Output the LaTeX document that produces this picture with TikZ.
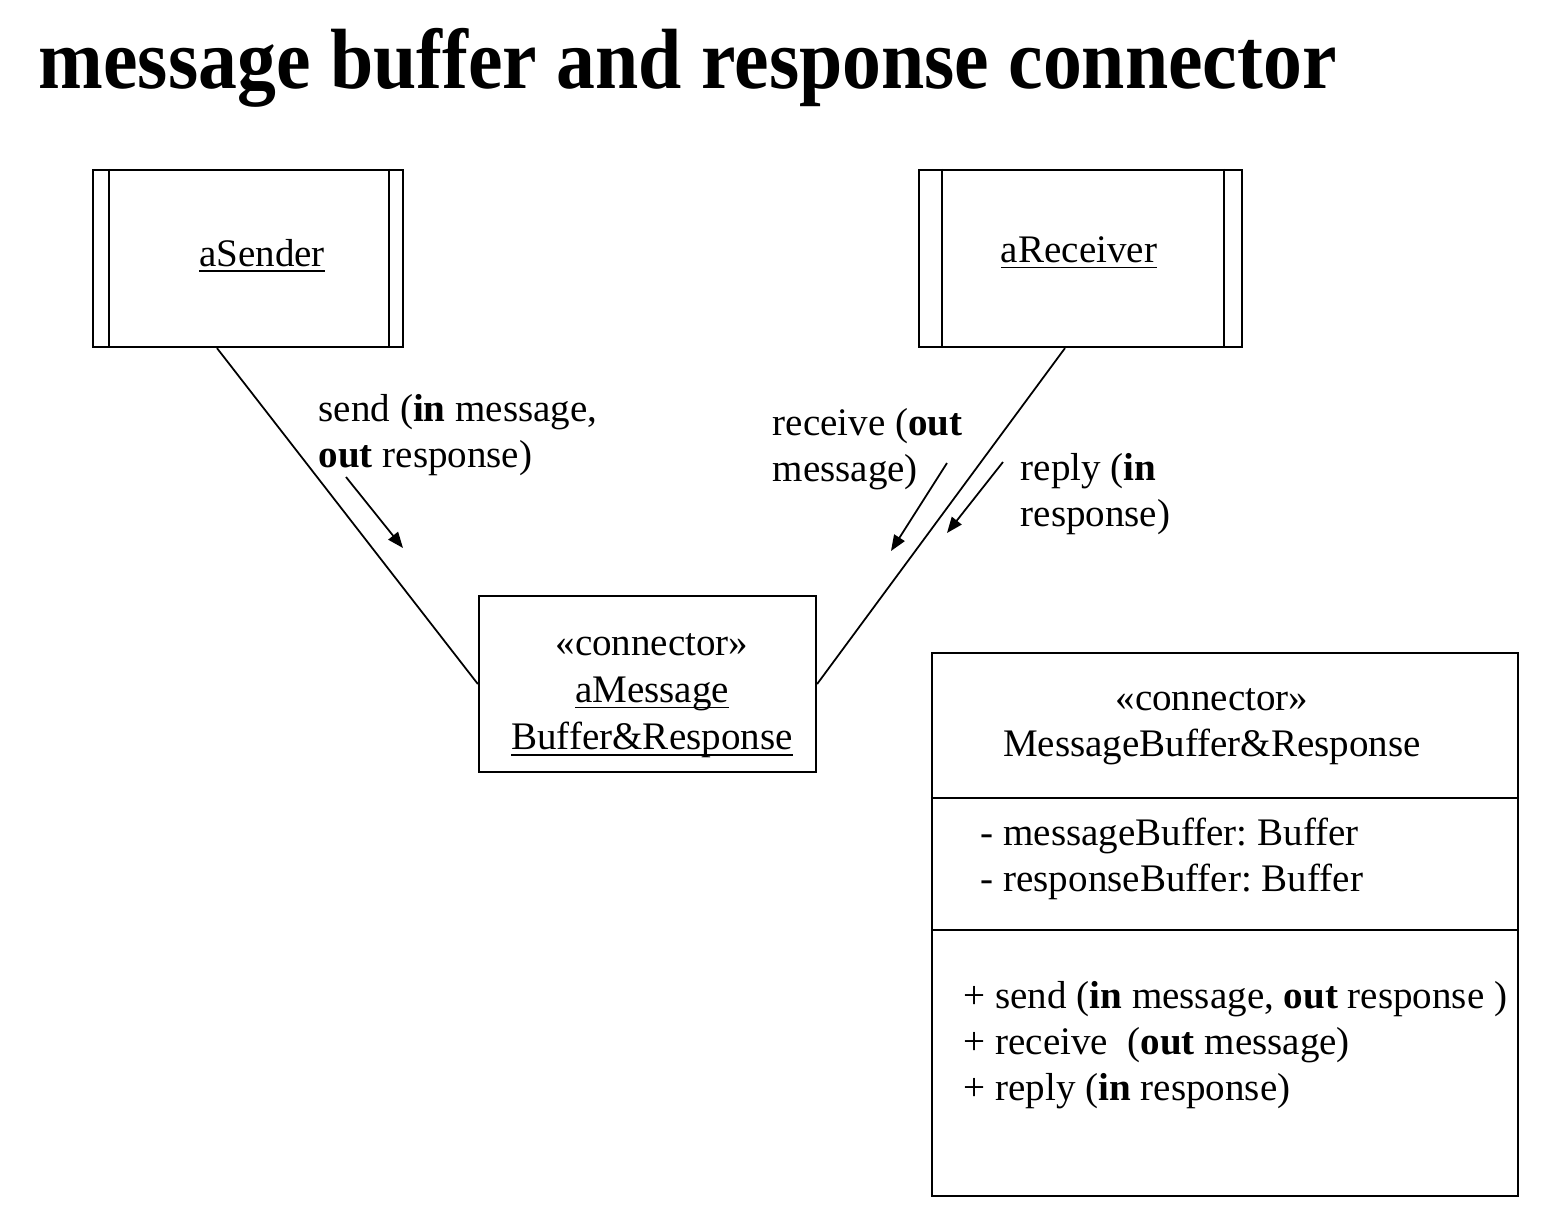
\documentclass[tikz,border=0pt]{standalone}
\usepackage{fontspec}
\setmainfont{Liberation Serif}
\usepackage{tikz}
\usetikzlibrary{arrows.meta, positioning, calc}
\frenchspacing
\newcommand\uln[1]{\underline{\smash{#1}}\vphantom{#1}}

\begin{document}
\begin{tikzpicture}[x=0.01cm, y=-0.01cm,
  active/.style={draw, line width=0.6pt, inner sep=0pt},
  conn/.style={draw, line width=0.6pt, minimum width=3.37cm, minimum height=1.76cm},
  cls/.style={draw, line width=0.6pt, minimum width=5.86cm, minimum height=5.43cm},
  lbl/.style={inner sep=0pt, align=left, anchor=north west, font=\fontsize{11.1}{13.1}\selectfont},
  arr/.style={-{Triangle[length=4.5pt, width=3.5pt]}, line width=0.5pt}
]
\useasboundingbox (0,0) rectangle (1568,1226);

\node[inner sep=0pt, anchor=base west, font=\fontsize{22.1}{26}\selectfont\bfseries]
  (title) at (38,88) {\scalebox{1}[1.1]{message buffer and response connector}};

% active objects
\node[active, minimum width=3.10cm, minimum height=1.77cm] (sender) at (248,258.5) {};
\draw[line width=0.4pt] ([xshift=0.17cm]sender.north west) -- ([xshift=0.17cm]sender.south west);
\draw[line width=0.4pt] ([xshift=-0.15cm]sender.north east) -- ([xshift=-0.15cm]sender.south east);
\node[lbl, anchor=center] (sendername) at (262,256) {\uln{aSender}};

\node[active, minimum width=3.23cm, minimum height=1.77cm] (receiver) at (1080.5,258.5) {};
\draw[line width=0.4pt] ([xshift=0.24cm]receiver.north west) -- ([xshift=0.24cm]receiver.south west);
\draw[line width=0.4pt] ([xshift=-0.19cm]receiver.north east) -- ([xshift=-0.19cm]receiver.south east);
\node[lbl, anchor=center] (receivername) at (1079,253) {\uln{aReceiver}};

% connector object
\node[conn] (mbr) at (647.5,684) {};
\node[lbl, align=center, anchor=center, font=\fontsize{11.1}{13.4}\selectfont] (mbrname) at (652,696)
  {«connector»\\\uln{aMessage}\\\uln{Buffer\&Response}};

\draw[line width=0.5pt] ([xshift=-0.31cm]sender.south) -- (mbr.west);
\draw[line width=0.5pt] ([xshift=-0.155cm]receiver.south) -- (mbr.east);

% messages
\coordinate (send1) at (346,477);  \coordinate (send2) at (403,548);
\coordinate (recv1) at (947,463);  \coordinate (recv2) at (891,551);
\coordinate (repl1) at (1003,462); \coordinate (repl2) at (947,533);
\draw[arr] (send1) -- (send2);
\draw[arr] (recv1) -- (recv2);
\draw[arr] (repl1) -- (repl2);
\node[lbl] (sendlbl) at (318,394) {send (\textbf{in} message,\\\textbf{out} response)};
\node[lbl] (recvlbl) at (772,408) {receive (\textbf{out}\\message)};
\node[lbl] (repllbl) at (1020,453) {reply (\textbf{in}\\response)};

% class
\node[cls] (mbrclass) at (1225,924.5) {};
\draw[line width=0.5pt] ($(mbrclass.north west)+(0,-1.46cm)$) -- ($(mbrclass.north east)+(0,-1.46cm)$);
\draw[line width=0.5pt] ($(mbrclass.north west)+(0,-2.78cm)$) -- ($(mbrclass.north east)+(0,-2.78cm)$);
\node[lbl, align=center, anchor=center] (clsname) at (1212,727) {«connector»\\MessageBuffer\&Response};
\node[lbl] (clsattr) at (980,817) {- messageBuffer: Buffer\\- responseBuffer: Buffer};
\node[lbl] (clsops) at (963,981) {+ send (\textbf{in} message, \textbf{out} response )\\
  + receive\ \ (\textbf{out} message)\\+ reply (\textbf{in} response)};
\end{tikzpicture}
\end{document}
